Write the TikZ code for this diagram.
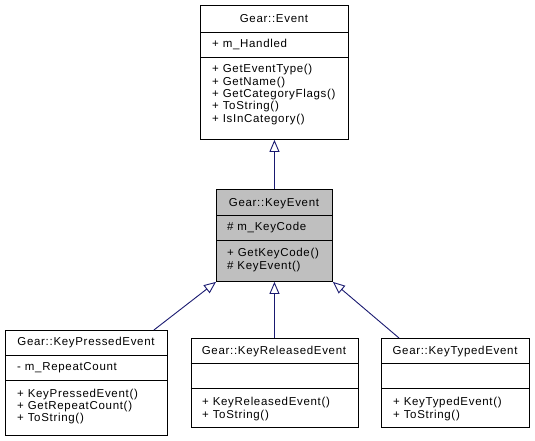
\documentclass[tikz,border=0pt]{standalone}
\usepackage{fontspec}
\setmainfont{Liberation Sans}[LetterSpace=6]
\usetikzlibrary{arrows.meta}
\definecolor{edgeblue}{HTML}{191970}
\definecolor{boxgray}{HTML}{BFBFBF}
\newcommand{\umlfont}{\fontsize{11.5}{12.3}\selectfont}
\tikzset{
  cls/.style={draw=black, line width=0.9pt, fill=white, inner sep=0pt, anchor=north west},
  clsgray/.style={cls, fill=boxgray},
  divider/.style={draw=black, line width=0.9pt},
  ttl/.style={inner sep=0pt, anchor=base, font=\umlfont},
  mbr/.style={inner sep=0pt, anchor=base west, font=\umlfont},
  inh/.style={draw=edgeblue, line width=0.9pt, -{Triangle[open, length=12pt, width=10pt, line width=0.9pt]}}
}
\begin{document}
\begin{tikzpicture}[x=1pt, y=-1pt]
\useasboundingbox (0,0) rectangle (535,441);

% Gear::Event
\node[cls, minimum width=148pt, minimum height=134pt] (ev) at (200,5) {};
\draw[divider] (200,32) -- (348,32);
\draw[divider] (200,57) -- (348,57);
\node[ttl] (evt) at (274,23) {Gear::Event};
\node[mbr] (eva) at (212,48) {+ m\_Handled};
\node[mbr] (evm1) at (212,73) {+ GetEventType()};
\node[mbr] (evm2) at (212,85.3) {+ GetName()};
\node[mbr] (evm3) at (212,97.6) {+ GetCategoryFlags()};
\node[mbr] (evm4) at (212,110) {+ ToString()};
\node[mbr] (evm5) at (212,122.2) {+ IsInCategory()};

% Gear::KeyEvent
\node[clsgray, minimum width=116pt, minimum height=92pt] (ke) at (216,189) {};
\draw[divider] (216,215) -- (332,215);
\draw[divider] (216,240) -- (332,240);
\node[ttl] (ket) at (274,206) {Gear::KeyEvent};
\node[mbr] (kea) at (227,230) {\# m\_KeyCode};
\node[mbr] (kem1) at (227,256) {+ GetKeyCode()};
\node[mbr] (kem2) at (227,269) {\# KeyEvent()};

% Gear::KeyPressedEvent
\node[cls, minimum width=162pt, minimum height=105pt] (kp) at (5,330) {};
\draw[divider] (5,355) -- (167,355);
\draw[divider] (5,380) -- (167,380);
\node[ttl] (kpt) at (86,345) {Gear::KeyPressedEvent};
\node[mbr] (kpa) at (17,370) {- m\_RepeatCount};
\node[mbr] (kpm1) at (17,397) {+ KeyPressedEvent()};
\node[mbr] (kpm2) at (17,409) {+ GetRepeatCount()};
\node[mbr] (kpm3) at (17,421) {+ ToString()};

% Gear::KeyReleasedEvent
\node[cls, minimum width=167pt, minimum height=89pt] (kr) at (190.5,338) {};
\draw[divider] (190.5,363) -- (357.5,363);
\draw[divider] (190.5,388) -- (357.5,388);
\node[ttl] (krt) at (274,354) {Gear::KeyReleasedEvent};
\node[mbr] (krm1) at (202,405) {+ KeyReleasedEvent()};
\node[mbr] (krm2) at (202,418) {+ ToString()};

% Gear::KeyTypedEvent
\node[cls, minimum width=148pt, minimum height=89pt] (kt) at (381,338) {};
\draw[divider] (381,363) -- (529,363);
\draw[divider] (381,388) -- (529,388);
\node[ttl] (ktt) at (455,354) {Gear::KeyTypedEvent};
\node[mbr] (ktm1) at (393,405) {+ KeyTypedEvent()};
\node[mbr] (ktm2) at (393,418) {+ ToString()};

% inheritance
\draw[inh] (ke.north) -- (ev.south);
\draw[inh] (kr.north) -- (ke.south);
\draw[inh] ([xshift=-14pt]kp.north east) -- (ke.south west);
\draw[inh] ([xshift=18pt]kt.north west) -- (ke.south east);
\end{tikzpicture}
\end{document}
